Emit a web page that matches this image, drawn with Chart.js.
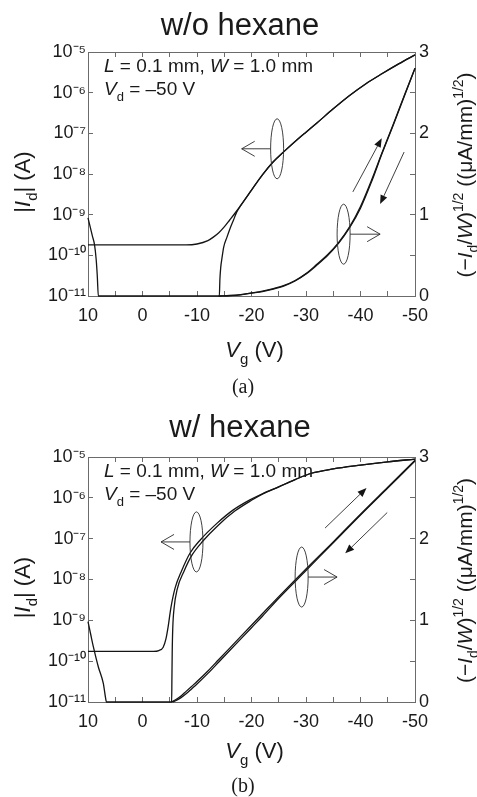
<!DOCTYPE html>
<html>
<head>
<meta charset="utf-8">
<script src="https://cdn.jsdelivr.net/npm/chart.js@4.4.1/dist/chart.umd.min.js"></script>
<style>
  html, body { margin: 0; padding: 0; background: #fff; }
  canvas { display: block; }
</style>
</head>
<body>
<canvas id="graficoA" width="477" height="400"></canvas>
<canvas id="graficoB" width="477" height="397"></canvas>
<script>
// === DATA ==================================================================
// Vg in V, |Id| in A, right axis (-Id/W)^1/2 in (uA/mm)^1/2
const LOG_TICKS = [1e-11, 1e-10, 1e-9, 1e-8, 1e-7, 1e-6, 1e-5];

// (a) w/o hexane
const aVg1 = [10, 5, 0, -5, -8, -10, -12, -13, -14, -15, -16, -17, -18, -20, -22, -24, -26, -28, -30, -32, -35, -38, -41, -44, -47, -50];
const aId1 = [1.8e-10, 1.8e-10, 1.8e-10, 1.8e-10, 1.8e-10, 1.9e-10, 2.3e-10, 2.8e-10, 3.6e-10, 5.0e-10, 7.4e-10, 1.1e-9, 1.66e-9, 4.0e-9, 9.5e-9, 2.0e-8, 3.6e-8, 6.3e-8, 1.07e-7, 1.8e-7, 4.0e-7, 8.5e-7, 1.66e-6, 2.95e-6, 5.1e-6, 8.5e-6];
const aVg2 = [10, 9.6, 9.2, 8.8, 8.5, 8.3, 8.1, 0, -10, -14.1, -14.2, -14.35, -14.6, -14.9, -15.5, -16.1, -16.7, -17.3, -18, -20, -22, -24, -26, -28, -30, -32, -35, -38, -41, -44, -47, -50];
const aId2 = [8.3e-10, 5.0e-10, 3.0e-10, 1.8e-10, 7.9e-11, 3.2e-11, 1e-11, 1e-11, 1e-11, 1e-11, 2.5e-11, 5e-11, 8.9e-11, 1.6e-10, 2.8e-10, 4.7e-10, 7.4e-10, 1.17e-9, 1.66e-9, 4.0e-9, 9.5e-9, 2.0e-8, 3.6e-8, 6.3e-8, 1.07e-7, 1.8e-7, 4.0e-7, 8.5e-7, 1.66e-6, 2.95e-6, 5.1e-6, 8.5e-6];
const aVgRoot = [-14, -16, -18, -20, -22, -24, -26, -28, -30, -32, -34, -36, -38, -40, -42, -44, -46, -48, -50];
const aRoot1 = [0, 0.005, 0.015, 0.035, 0.055, 0.085, 0.125, 0.185, 0.27, 0.38, 0.5, 0.65, 0.84, 1.08, 1.4, 1.76, 2.1, 2.45, 2.8];
const aRoot2 = [0, 0.006, 0.018, 0.038, 0.06, 0.09, 0.13, 0.19, 0.275, 0.39, 0.51, 0.66, 0.85, 1.1, 1.42, 1.77, 2.11, 2.46, 2.8];

// (b) w/ hexane
const bVg1 = [10, 5, 0, -2, -3, -3.8, -4.3, -4.7, -5.2, -6, -7.2, -8.7, -10.6, -13.7, -16.6, -19.7, -22, -25, -28, -31, -35, -40, -45, -50];
const bId1 = [1.74e-10, 1.74e-10, 1.74e-10, 1.74e-10, 1.82e-10, 2.2e-10, 3.5e-10, 6.9e-10, 2.0e-9, 6.3e-9, 1.66e-8, 4.4e-8, 9.3e-8, 2.4e-7, 5.0e-7, 8.9e-7, 1.26e-6, 1.86e-6, 2.8e-6, 4.0e-6, 5.1e-6, 6.3e-6, 7.6e-6, 8.9e-6];
const bVg2 = [10, 9.5, 9, 8.1, 7.2, 6.7, 6.6, 0, -5.35, -5.4, -5.45, -5.55, -5.8, -6.4, -7.6, -9.1, -11, -14, -17, -20, -22, -25, -28, -31, -35, -40, -45, -50];
const bId2 = [9.3e-10, 4.5e-10, 2.2e-10, 7.2e-11, 2.9e-11, 1.1e-11, 1e-11, 1e-11, 1e-11, 4.0e-11, 1.58e-10, 6.3e-10, 2.0e-9, 6.0e-9, 1.58e-8, 4.0e-8, 8.5e-8, 2.2e-7, 4.8e-7, 8.7e-7, 1.23e-6, 1.86e-6, 2.8e-6, 4.0e-6, 5.1e-6, 6.3e-6, 7.6e-6, 8.9e-6];
const bVgRoot1 = [-5.3, -6, -7, -8, -9, -10, -12, -14, -16, -18, -20, -22, -25, -30, -35, -40, -45, -50];
const bRoot1 = [0, 0.025, 0.07, 0.13, 0.19, 0.25, 0.38, 0.52, 0.66, 0.8, 0.94, 1.08, 1.29, 1.63, 1.96, 2.3, 2.63, 2.96];
const bVgRoot2 = [-5.6, -6, -7, -8, -9, -10, -12, -14, -16, -18, -20, -22, -25, -30, -35, -40, -45, -50];
const bRoot2 = [0, 0.012, 0.05, 0.1, 0.16, 0.22, 0.35, 0.49, 0.63, 0.77, 0.91, 1.05, 1.27, 1.61, 1.95, 2.29, 2.62, 2.95];

// === STYLE =================================================================
const SANS  = '"Liberation Sans", Arial, Helvetica, sans-serif';
const SERIF = '"Liberation Serif", "Times New Roman", serif';
const INK   = '#1a1a1a';
const FRAME = '#6b6b6b';

const SUP = { '-': '\u207B', '0': '\u2070', '1': '\u00B9', '2': '\u00B2', '3': '\u00B3', '4': '\u2074',
              '5': '\u2075', '6': '\u2076', '7': '\u2077', '8': '\u2078', '9': '\u2079' };
const sup = n => String(n).split('').map(c => SUP[c]).join('');

// rich text pieces: i = italic, sub / sup
const T_ID   = [{ t: '|' }, { t: 'I', i: 1 }, { t: 'd', sub: 1 }, { t: '| (A)' }];
const T_ROOT = [{ t: '(\u2212' }, { t: 'I', i: 1 }, { t: 'd', sub: 1 }, { t: '/' }, { t: 'W', i: 1 }, { t: ')' },
                { t: '1/2', sup: 1 }, { t: ' ((\u03BCA/mm)' }, { t: '1/2', sup: 1 }, { t: ')' }];
const T_VG   = [{ t: 'V', i: 1 }, { t: 'g', sub: 1 }, { t: ' (V)' }];
const T_LW   = [{ t: 'L', i: 1 }, { t: ' = 0.1 mm, ' }, { t: 'W', i: 1 }, { t: ' = 1.0 mm' }];
const T_VD   = [{ t: 'V', i: 1 }, { t: 'd', sub: 1 }, { t: ' = \u201350 V' }];

// === HELPERS ===============================================================
function pares(vg, vals) {
  return vg.map((v, i) => ({ x: v, y: vals[i] }));
}

function serie(vg, vals, eixo) {
  return {
    data: pares(vg, vals),
    yAxisID: eixo,
    borderColor: '#141414',
    borderWidth: 1.3,
    pointRadius: 0,
    fill: false,
    cubicInterpolationMode: 'monotone',
    clip: 3
  };
}

function rich(ctx, parts, x, y, size, { rot = 0, align = 'center', family = SANS } = {}) {
  const fontOf = p => `${p.i ? 'italic ' : ''}${p.sub || p.sup ? Math.round(size * 0.66) : size}px ${family}`;
  let total = 0;
  parts.forEach(p => { ctx.font = fontOf(p); total += ctx.measureText(p.t).width; });
  ctx.save();
  ctx.translate(x, y);
  ctx.rotate(rot);
  ctx.fillStyle = INK;
  ctx.textBaseline = 'alphabetic';
  ctx.textAlign = 'left';
  let cur = align === 'left' ? 0 : -total / 2;
  parts.forEach(p => {
    ctx.font = fontOf(p);
    const dy = p.sub ? size * 0.3 : p.sup ? -size * 0.45 : 0;
    ctx.fillText(p.t, cur, dy);
    cur += ctx.measureText(p.t).width;
  });
  ctx.restore();
}

// ellipses, hand-drawn arrows and every text that needs italics / sub / sup
const sketchPlugin = {
  id: 'sketch',
  afterDatasetsDraw(chart, args, o) {
    const { ctx } = chart;
    const sx = chart.scales.x, sy = chart.scales.yR;
    ctx.save();
    ctx.strokeStyle = '#2a2a2a';
    ctx.fillStyle = '#141414';
    ctx.lineWidth = 0.9;
    o.loops.forEach(l => {
      const cx = sx.getPixelForValue(l.vg), cy = sy.getPixelForValue(l.v);
      const tip = sx.getPixelForValue(l.to);
      const d = Math.sign(tip - cx);
      ctx.beginPath();
      ctx.ellipse(cx, cy, 6.5, 30, 0, 0, Math.PI * 2);
      ctx.stroke();
      ctx.beginPath();
      ctx.moveTo(cx + d * 6.5, cy);
      ctx.lineTo(tip, cy);
      ctx.moveTo(tip - d * 13, cy - 7.5);
      ctx.lineTo(tip, cy);
      ctx.lineTo(tip - d * 13, cy + 7.5);
      ctx.stroke();
    });
    o.sweeps.forEach(s => {
      const x1 = sx.getPixelForValue(s.from[0]), y1 = sy.getPixelForValue(s.from[1]);
      const x2 = sx.getPixelForValue(s.to[0]),   y2 = sy.getPixelForValue(s.to[1]);
      const ang = Math.atan2(y2 - y1, x2 - x1);
      const hx = x2 - 9 * Math.cos(ang), hy = y2 - 9 * Math.sin(ang);
      ctx.beginPath();
      ctx.moveTo(x1, y1);
      ctx.lineTo(hx, hy);
      ctx.stroke();
      ctx.beginPath();
      ctx.moveTo(x2, y2);
      ctx.lineTo(hx + 3.6 * Math.sin(ang), hy - 3.6 * Math.cos(ang));
      ctx.lineTo(hx - 3.6 * Math.sin(ang), hy + 3.6 * Math.cos(ang));
      ctx.closePath();
      ctx.fill();
    });
    ctx.restore();
  },
  afterDraw(chart, args, o) {
    const { ctx, chartArea: ca } = chart;
    const midY = (ca.top + ca.bottom) / 2;
    ctx.save();
    ctx.fillStyle = INK;
    ctx.font = `31px ${SANS}`;
    ctx.textAlign = 'center';
    ctx.textBaseline = 'alphabetic';
    ctx.fillText(o.title, 240, ca.top - o.titleGap);
    ctx.restore();
    rich(ctx, T_LW, ca.left + 16, ca.top + 20, 19, { align: 'left' });
    rich(ctx, T_VD, ca.left + 16, ca.top + 43, 19, { align: 'left' });
    rich(ctx, T_ID, 30, midY + 8, 22, { rot: -Math.PI / 2 });
    rich(ctx, T_ROOT, 472, midY + 1, 21, { rot: -Math.PI / 2 });
    rich(ctx, T_VG, (ca.left + ca.right) / 2 + 3, ca.bottom + o.xTitleGap, 22);
    rich(ctx, [{ t: o.tag }], 243, ca.bottom + o.tagGap, 20, { family: SERIF });
  }
};

// === AXES ==================================================================
function escalas(alturaX) {
  const tickFont = { family: SANS, size: 18 };
  const grade = { drawOnChartArea: false, color: FRAME, lineWidth: 1, tickLength: -5 };
  const borda = { color: FRAME, width: 1 };
  const eixoX = {
    type: 'linear', min: -50, max: 10, reverse: true,
    grid: grade, border: borda,
    ticks: {
      stepSize: 5, autoSkip: false, maxRotation: 0, font: tickFont, color: INK, padding: 14,
      callback: v => (v % 10 === 0 ? String(v) : '')
    }
  };
  return {
    x: { ...eixoX, position: 'bottom', afterFit: s => { s.height = alturaX; } },
    xTop: { ...eixoX, position: 'top', ticks: { ...eixoX.ticks, display: false }, afterFit: s => { s.height = 0; } },
    yLog: {
      type: 'logarithmic', position: 'left', min: 1e-11, max: 1e-5,
      grid: grade, border: borda,
      afterBuildTicks: s => { s.ticks = LOG_TICKS.map(v => ({ value: v })); },
      afterFit: s => { s.width = 88; },
      ticks: { font: tickFont, color: INK, padding: 7, callback: v => '10' + sup(Math.round(Math.log10(v))) }
    },
    yR: {
      type: 'linear', position: 'right', min: 0, max: 3,
      grid: grade, border: borda,
      afterFit: s => { s.width = 62; },
      ticks: { stepSize: 0.5, font: tickFont, color: INK, padding: 9,
               callback: v => (Number.isInteger(v) ? String(v) : '') }
    }
  };
}

function criaPainel(el, datasets, topo, alturaX, sketch) {
  return new Chart(el, {
    type: 'line',
    data: { datasets },
    options: {
      responsive: false,
      animation: false,
      devicePixelRatio: 1,
      events: [],
      layout: { padding: { top: topo, left: 0, right: 0, bottom: 0 } },
      plugins: { legend: { display: false }, tooltip: { enabled: false }, sketch },
      scales: escalas(alturaX)
    },
    plugins: [sketchPlugin]
  });
}

// === CHARTS ================================================================
criaPainel(document.getElementById('graficoA'), [
  serie(aVg1, aId1, 'yLog'),
  serie(aVg2, aId2, 'yLog'),
  serie(aVgRoot, aRoot1, 'yR'),
  serie(aVgRoot, aRoot2, 'yR')
], 52, 104, {
  title: 'w/o hexane', tag: '(a)', titleGap: 17, xTitleGap: 61, tagGap: 97,
  loops: [{ vg: -24.7, v: 1.81, to: -18.2 }, { vg: -36.9, v: 0.76, to: -43.6 }],
  sweeps: [{ from: [-38.6, 1.28], to: [-43.9, 1.94] }, { from: [-48.0, 1.77], to: [-43.6, 1.13] }]
});

criaPainel(document.getElementById('graficoB'), [
  serie(bVg1, bId1, 'yLog'),
  serie(bVg2, bId2, 'yLog'),
  serie(bVgRoot1, bRoot1, 'yR'),
  serie(bVgRoot2, bRoot2, 'yR')
], 57, 95, {
  title: 'w/ hexane', tag: '(b)', titleGap: 20, xTitleGap: 56, tagGap: 90,
  loops: [{ vg: -9.9, v: 1.96, to: -3.4 }, { vg: -29.2, v: 1.53, to: -35.7 }],
  sweeps: [{ from: [-33.5, 2.13], to: [-41.1, 2.62] }, { from: [-44.9, 2.32], to: [-37.2, 1.82] }]
});
</script>
</body>
</html>
